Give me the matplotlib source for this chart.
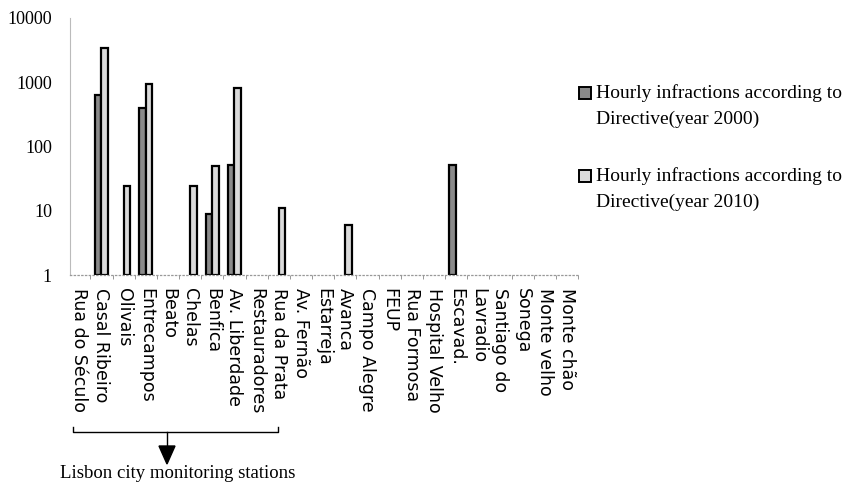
import numpy as np
import matplotlib
matplotlib.use("Agg")
import matplotlib.pyplot as plt
from matplotlib.patches import Rectangle
from matplotlib.lines import Line2D

# stations along the x axis
stations = ["Rua do Século", "Casal Ribeiro", "Olivais", "Entrecampos", "Beato",
            "Chelas", "Benfica", "Av. Liberdade", "Restauradores", "Rua da Prata",
            "Av. Fernão", "Estarreja", "Avanca", "Campo Alegre", "FEUP",
            "Rua Formosa", "Hospital Velho", "Escavad.", "Lavradio", "Santiago do",
            "Sonega", "Monte velho", "Monte chão"]

nan = np.nan
year2000 = [nan, 630, nan, 390, nan, nan, 8, 50, nan, nan, nan, nan,
            nan, nan, nan, nan, nan, 50, nan, nan, nan, nan, nan]
year2010 = [nan, 3400, 23, 950, nan, 23, 48, 800, nan, 10, nan, nan,
            5, nan, nan, nan, nan, nan, nan, nan, nan, nan, nan]

label2000 = ["Hourly infractions according to", "Directive(year 2000)"]
label2010 = ["Hourly infractions according to", "Directive(year 2010)"]
yticks = [1, 10, 100, 1000, 10000]

W, H = 849, 483
fig = plt.figure(figsize=(W / 100, H / 100), dpi=100)
ax = fig.add_axes([70 / W, 1 - 275 / H, 508 / W, (275 - 18) / H])

x = np.arange(len(stations))
bw = 0.3
ax.bar(x - bw / 2, year2000, bw, bottom=1, color="#8a8a8a", edgecolor="black", linewidth=1.6)
ax.bar(x + bw / 2, year2010, bw, bottom=1, color="#dadada", edgecolor="black", linewidth=1.6)

ax.set_yscale("log")
ax.set_ylim(1, 10000)
ax.set_xlim(-0.42, 22.16)
ax.set_yticks(yticks)
ax.set_yticklabels([str(v) for v in yticks], family="Liberation Serif", fontsize=13)
ax.yaxis.set_minor_locator(matplotlib.ticker.NullLocator())
ax.tick_params(axis="y", length=0, pad=13)

ax.set_xticks(x)
ax.set_xticklabels(stations, rotation=270, ha="center", va="top",
                   family="DejaVu Sans", fontsize=12.5)
ax.set_xticks(x + 0.5, minor=True)
ax.tick_params(axis="x", which="major", length=0, pad=9)
ax.tick_params(axis="x", which="minor", length=3, color="#888888", direction="out")

for s in ["top", "right"]:
    ax.spines[s].set_visible(False)
ax.spines["left"].set_color("#bbbbbb")
ax.spines["left"].set_linewidth(0.8)
ax.spines["bottom"].set_color("#999999")
ax.spines["bottom"].set_linestyle((0, (1, 2)))
ax.spines["bottom"].set_linewidth(0.9)

# legend drawn by hand to match the two-line entries
def legend_entry(y_top, colour, lines):
    fig.patches.append(Rectangle((579 / W, 1 - (y_top + 6) / H), 12 / W, 12 / H,
                                 transform=fig.transFigure, facecolor=colour,
                                 edgecolor="black", linewidth=1.4))
    for k, txt in enumerate(lines):
        fig.text(596 / W, 1 - (y_top + k * 26) / H, txt, family="Liberation Serif",
                 fontsize=14, va="center", ha="left")

legend_entry(93, "#8a8a8a", label2000)
legend_entry(176, "#dadada", label2010)

# bracket marking the Lisbon stations
fy = lambda p: 1 - p / H
fig.lines.append(Line2D([73 / W, 73 / W, 278 / W, 278 / W],
                        [fy(427), fy(432), fy(432), fy(427)],
                        transform=fig.transFigure, color="black", linewidth=1))
fig.lines.append(Line2D([167 / W, 167 / W], [fy(432), fy(448)],
                        transform=fig.transFigure, color="black", linewidth=1))
fig.patches.append(plt.Polygon([[159 / W, fy(446)], [175 / W, fy(446)], [167 / W, fy(464)]],
                               closed=True, transform=fig.transFigure, color="black"))
fig.text(178 / W, fy(473), "Lisbon city monitoring stations", family="Liberation Serif",
         fontsize=13.5, ha="center", va="center")

fig.savefig("out.png", dpi=100)
